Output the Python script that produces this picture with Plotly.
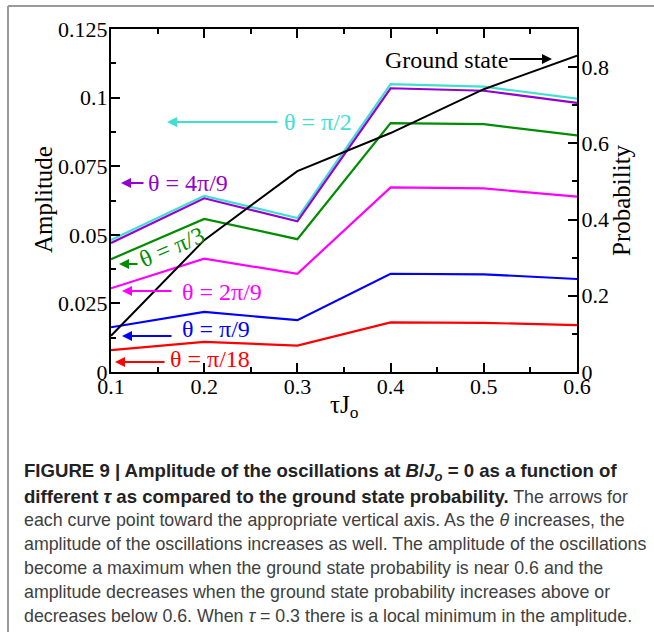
import plotly.graph_objects as go

# tau * J_o values
tau = [0.1, 0.2, 0.3, 0.4, 0.5, 0.6]

# oscillation amplitude for each theta
amp_pi_2 = [0.0481, 0.0642, 0.0561, 0.1049, 0.1040, 0.0996]
amp_4pi_9 = [0.0470, 0.0633, 0.0549, 0.1034, 0.1025, 0.0981]
amp_pi_3 = [0.0411, 0.0558, 0.0484, 0.0907, 0.0903, 0.0862]
amp_2pi_9 = [0.0305, 0.0413, 0.0358, 0.0673, 0.0669, 0.0639]
amp_pi_9 = [0.0163, 0.0219, 0.0189, 0.0358, 0.0356, 0.0339]
amp_pi_18 = [0.0080, 0.0110, 0.0096, 0.0181, 0.0179, 0.0171]

# ground state probability (right axis)
ground_prob = [0.095, 0.346, 0.527, 0.627, 0.742, 0.830]

x_ticks = [0.1, 0.2, 0.3, 0.4, 0.5, 0.6]
x_ticklabels = ["0.1", "0.2", "0.3", "0.4", "0.5", "0.6"]
x_minor = [0.15, 0.25, 0.35, 0.45, 0.55]
amp_ticks = [0, 0.025, 0.05, 0.075, 0.1, 0.125]
amp_ticklabels = ["0", "0.025", "0.05", "0.075", "0.1", "0.125"]
amp_minor = [0.0125, 0.0375, 0.0625, 0.0875, 0.1125]
prob_ticks = [0, 0.2, 0.4, 0.6, 0.8]
prob_ticklabels = ["0", "0.2", "0.4", "0.6", "0.8"]
prob_minor = [0.1, 0.3, 0.5, 0.7]

W, H = 654, 637
# plot box in pixels
L, R, T, B = 111, 577, 29, 372

SERIF = "Liberation Serif, Times New Roman, serif"
SANS = "Liberation Sans, Arial, Helvetica, sans-serif"


def px(xp):
    return (xp - L) / (R - L)


def py(yp):
    return (B - yp) / (B - T)


series = [
    (amp_pi_18, "#ff0000", "θ = π/18"),
    (amp_pi_9, "#0000ff", "θ = π/9"),
    (amp_2pi_9, "#ff00ff", "θ = 2π/9"),
    (amp_pi_3, "#008c00", "θ = π/3"),
    (amp_pi_2, "#40e0d0", "θ = π/2"),
    (amp_4pi_9, "#9400d3", "θ = 4π/9"),
]

fig = go.Figure()
for vals, col, name in series:
    fig.add_trace(go.Scatter(x=tau, y=vals, mode="lines", name=name,
                             line=dict(color=col, width=2.2), yaxis="y"))

fig.add_trace(go.Scatter(x=tau, y=ground_prob, mode="lines", name="Ground state",
                         line=dict(color="black", width=2), yaxis="y2"))

tickfont = dict(family=SERIF, size=22, color="black")
tickstyle = dict(ticks="inside", ticklen=9, tickwidth=1.6, tickcolor="black",
                 showline=True, linecolor="black", linewidth=2,
                 showgrid=False, zeroline=False, tickfont=tickfont)
minorstyle = dict(ticks="inside", ticklen=5, tickwidth=1.6, tickcolor="black")

fig.update_layout(
    width=W, height=H,
    margin=dict(l=L, r=W - R, t=T, b=H - B),
    paper_bgcolor="white", plot_bgcolor="white",
    showlegend=False,
    xaxis=dict(range=[0.1, 0.6], tickvals=x_ticks, ticktext=x_ticklabels,
               minor=dict(tickvals=x_minor, **minorstyle), mirror="ticks",
               ticklabelstandoff=-6, **tickstyle),
    yaxis=dict(range=[0, 0.125], tickvals=amp_ticks, ticktext=amp_ticklabels,
               minor=dict(tickvals=amp_minor, **minorstyle),
               ticklabelstandoff=-3, **tickstyle),
    yaxis2=dict(range=[0, 0.9], overlaying="y", side="right",
                tickvals=prob_ticks, ticktext=prob_ticklabels,
                minor=dict(tickvals=prob_minor, **minorstyle),
                ticklabelstandoff=-2, **tickstyle),
)

ann = []


def text_ann(text, xp, yp, size, color="black", angle=0, family=SERIF):
    return dict(text=text, x=px(xp), y=py(yp), xref="paper", yref="paper",
                xanchor="center", yanchor="middle", showarrow=False, textangle=angle,
                font=dict(family=family, size=size, color=color))


# axis titles
ann.append(text_ann("Amplitude", 44, 200, 25, angle=-90))
ann.append(text_ann("Probability", 622, 200, 25, angle=-90))
ann.append(text_ann("τJ<sub>o</sub>", 344, 407, 25))

# curve labels: (text, colour, text centre x, text centre y, angle, arrow tail x, arrow head x, arrow y)
labels = [
    ("Ground state", "black", 446, 60, 0, 508, 552, 59),
    ("θ = π/2", "#40e0d0", 318, 122, 0, 279, 167, 122),
    ("θ = 4π/9", "#9400d3", 188, 183, 0, 145, 121, 183),
    ("θ = π/3", "#008c00", 172, 247, -23, 139, 119, 264),
    ("θ = 2π/9", "#ff00ff", 222, 292, 0, 173, 122, 291),
    ("θ = π/9", "#0000ff", 216, 329, 0, 173, 122, 336),
    ("θ = π/18", "#ff0000", 210, 359, 0, 166, 115, 362),
]
for text, col, tx, ty, ang, ax0, ax1, ay0 in labels:
    ann.append(text_ann(text, tx, ty, 24, color=col, angle=ang))
    ann.append(dict(text="", x=px(ax1), y=py(ay0), xref="paper", yref="paper",
                    ax=ax0 - ax1, ay=0, axref="pixel", ayref="pixel",
                    showarrow=True, arrowhead=2, arrowsize=1, arrowwidth=2,
                    arrowcolor=col, standoff=0))

# caption
BOLD = '<span style="font-size:18.6px;color:#222222"><b>{}</b></span>'
caption = [
    BOLD.format("FIGURE 9 | Amplitude of the oscillations at <i>B</i>/<i>J<sub>o</sub></i> = 0 as a function of"),
    BOLD.format("different <i>τ</i> as compared to the ground state probability.") + " The arrows for",
    "each curve point toward the appropriate vertical axis. As the <i>θ</i> increases, the",
    "amplitude of the oscillations increases as well. The amplitude of the oscillations",
    "become a maximum when the ground state probability is near 0.6 and the",
    "amplitude decreases when the ground state probability increases above or",
    "decreases below 0.6. When <i>τ</i> = 0.3 there is a local minimum in the amplitude.",
]
for i, line in enumerate(caption):
    ann.append(dict(text=line, x=px(22), y=py(472 + 24 * i), xref="paper", yref="paper",
                    xanchor="left", yanchor="middle", showarrow=False, align="left",
                    font=dict(family=SANS, size=17.8, color="#404040")))

fig.update_layout(annotations=ann)

# grey frame: top and left edges
fig.add_shape(type="line", xref="paper", yref="paper", x0=px(8), x1=px(654), y0=py(6), y1=py(6),
              line=dict(color="#9a9a9a", width=2))
fig.add_shape(type="line", xref="paper", yref="paper", x0=px(8), x1=px(8), y0=py(6), y1=py(632),
              line=dict(color="#9a9a9a", width=2))

fig.write_html("out.html")
